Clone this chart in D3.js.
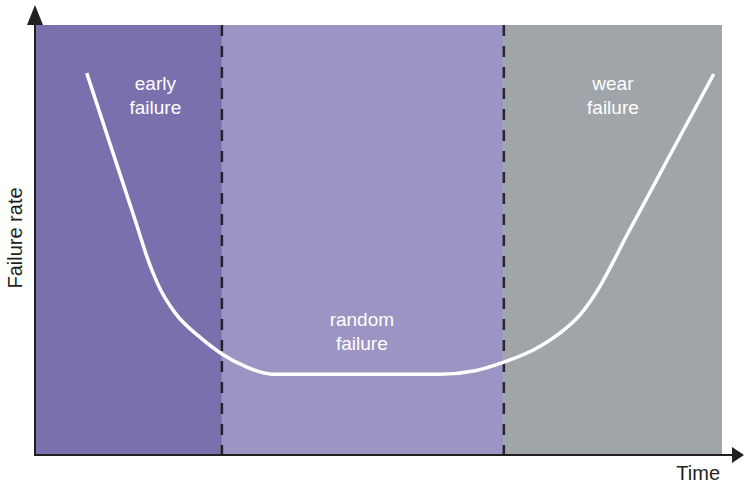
<!DOCTYPE html>
<html>
<head>
<meta charset="utf-8">
<script src="https://cdn.jsdelivr.net/npm/d3@7"></script>
<style>
  body { margin: 0; background: #fff; }
  text { font-family: "Liberation Sans", Arial, sans-serif; }
</style>
</head>
<body>
<div id="chart"></div>
<script>
// phases of the bathtub curve (time in % of life)
var phaseNames = [["early", "failure"], ["random", "failure"], ["wear", "failure"]];
var phaseStart = [0, 27.1, 68.2];
var phaseEnd = [27.1, 68.2, 100];
var phaseColors = ["#7a70ad", "#9c95c3", "#a0a5aa"];
var labelX = [17.4, 47.5, 84.1];
var labelY = [85, 30, 85];

// failure rate curve
var curveTime = [7.4, 10.7, 14.4, 16.6, 18.1, 20.3, 23.9, 27.1, 30.5, 34.4, 45, 58.9, 64.0, 68.2, 72.7, 76.4, 79.3, 81.5, 86.5, 92.5, 98.8];
var curveRate = [88.8, 72.8, 54.9, 44.2, 38.6, 33.0, 27.4, 23.5, 20.6, 18.8, 18.8, 18.8, 19.6, 21.6, 24.6, 28.4, 32.6, 37.4, 52.2, 70.0, 88.6];

var W = 744, H = 484;
var margin = {top: 25, right: 22, bottom: 29, left: 36},
    width = W - margin.left - margin.right,
    height = H - margin.top - margin.bottom;

var x = d3.scaleLinear().domain([0, 100]).range([0, width]);
var y = d3.scaleLinear().domain([0, 100]).range([height, 0]);

var svg = d3.select("#chart").append("svg")
    .attr("width", W)
    .attr("height", H);
var g = svg.append("g")
    .attr("transform", "translate(" + margin.left + "," + margin.top + ")");

// phase backgrounds
g.selectAll("rect.phase")
    .data(phaseStart)
  .enter().append("rect")
    .attr("class", "phase")
    .attr("x", function(d) { return x(d); })
    .attr("y", 0)
    .attr("width", function(d, i) { return x(phaseEnd[i]) - x(d); })
    .attr("height", height)
    .attr("fill", function(d, i) { return phaseColors[i]; });

// dashed boundaries
g.selectAll("line.bound")
    .data(phaseStart.slice(1))
  .enter().append("line")
    .attr("x1", function(d) { return x(d); })
    .attr("x2", function(d) { return x(d); })
    .attr("y1", 0)
    .attr("y2", height)
    .attr("stroke", "#26242b")
    .attr("stroke-width", 2.5)
    .attr("stroke-dasharray", "11,10");

// curve
var pts = curveTime.map(function(t, i) { return [t, curveRate[i]]; });
var line = d3.line()
    .x(function(d) { return x(d[0]); })
    .y(function(d) { return y(d[1]); })
    .curve(d3.curveMonotoneX);
g.append("path")
    .datum(pts)
    .attr("d", line)
    .attr("fill", "none")
    .attr("stroke", "#fff")
    .attr("stroke-width", 3.5)
    .attr("stroke-linejoin", "round");

// phase labels
phaseNames.forEach(function(lines, i) {
  var t = g.append("text")
      .attr("x", x(labelX[i]))
      .attr("y", y(labelY[i]))
      .attr("text-anchor", "middle")
      .attr("fill", "#fff")
      .style("font-size", "19px");
  lines.forEach(function(s, j) {
    t.append("tspan")
        .attr("x", x(labelX[i]))
        .attr("dy", j ? 24 : 0)
        .text(s);
  });
});

// axes with arrows
var ax = "#231f20";
g.append("line")
    .attr("x1", -1).attr("x2", -1)
    .attr("y1", height + 1).attr("y2", -2)
    .attr("stroke", ax).attr("stroke-width", 2);
g.append("path")
    .attr("d", "M-9,0 L-1,-20 L7,0 Z")
    .attr("fill", ax);
g.append("line")
    .attr("x1", -2).attr("x2", width + 12)
    .attr("y1", height).attr("y2", height)
    .attr("stroke", ax).attr("stroke-width", 2);
g.append("path")
    .attr("d", "M" + (width + 10) + "," + (height - 8) + " L" + (width + 22) + "," + height + " L" + (width + 10) + "," + (height + 8) + " Z")
    .attr("fill", ax);

// axis titles
svg.append("text")
    .attr("x", 720)
    .attr("y", 480)
    .attr("text-anchor", "end")
    .attr("fill", ax)
    .style("font-size", "20px")
    .text("Time");
svg.append("text")
    .attr("transform", "translate(22,238) rotate(-90)")
    .attr("text-anchor", "middle")
    .attr("fill", ax)
    .style("font-size", "20px")
    .text("Failure rate");
</script>
</body>
</html>
